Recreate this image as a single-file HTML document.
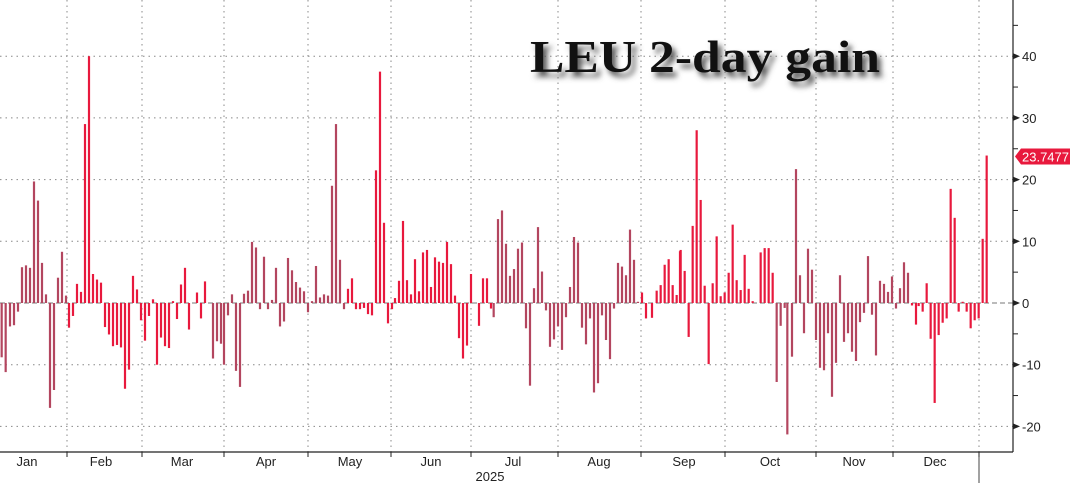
<!DOCTYPE html>
<html><head><meta charset="utf-8">
<style>
html,body{margin:0;padding:0;background:#fff;}
svg{display:block;font-family:"Liberation Sans",sans-serif;}
</style></head>
<body>
<svg id="c" width="1070" height="483" viewBox="0 0 1070 483" xmlns="http://www.w3.org/2000/svg">
<defs><filter id="bl" x="-10%" y="-30%" width="120%" height="160%"><feGaussianBlur stdDeviation="3"/></filter></defs>
<rect width="1070" height="483" fill="#fff"/>
<g id="grid"></g>
<g id="bars"></g>
<g id="axis"></g>
<text x="530" y="72" font-family="Liberation Serif, serif" font-weight="bold" font-size="46" fill="#555" filter="url(#bl)" textLength="350" lengthAdjust="spacingAndGlyphs" transform="translate(4,5)">LEU 2-day gain</text>
<text x="530" y="72" font-family="Liberation Serif, serif" font-weight="bold" font-size="46" fill="#111" textLength="350" lengthAdjust="spacingAndGlyphs">LEU 2-day gain</text>
</svg>
<script>
var NS="http://www.w3.org/2000/svg";
function el(p,t,a,txt){var e=document.createElementNS(NS,t);for(var k in a)e.setAttribute(k,a[k]);if(txt!==undefined)e.textContent=txt;p.appendChild(e);return e;}
var Z=303,U=6.17;
function Y(v){return Z-v*U;}
var grid=document.getElementById('grid'),bars=document.getElementById('bars'),ax=document.getElementById('axis');
[40,30,20,10,-10,-20].forEach(function(v){el(grid,'line',{x1:0,x2:1013,y1:Y(v),y2:Y(v),stroke:'#888','stroke-width':1,'stroke-dasharray':'1.5,4'});});
var mb=[67,142,224,308,391,471,558,641,725,816,893,979];
mb.forEach(function(x){el(grid,'line',{x1:x,x2:x,y1:0,y2:452,stroke:'#888','stroke-width':1,'stroke-dasharray':'1.5,4'});});
var segs=[
 [0,[[5,-8.8],[17,-11.2],[30,-3.8],[42,-3.6],[54,-1.4],[66,5.8],[78,6.1],[90,5.7],[102,19.7],[114,16.6],[126,6.5],[138,1.4],[150,-17],[162,-14.1],[174,4.1],[186,8.3],[198,1.2],
 [207,-4],[219,-2.1],[231,3.1],[243,1.8],[255,29],[267,40],[279,4.7],[291,3.8],[303,3.3],[315,-3.9],[327,-5.1],[339,-7],[351,-6.8],[363,-7.2],[375,-13.9],[387,-10.8],[399,4.4],[411,2.2],
 [423,-2.8],[435,-6.1],[447,-2.1],[459,0.6],[471,-10],[483,-5.6],[495,-7],[507,-7.3],[519,0.3],[531,-2.6],[543,3],[555,5.7],[567,-4.3],[591,1.7],[603,-2.5],[615,3.5],[639,-9],[651,-6.2],[663,-6.6],
 [672,-10],[684,-2],[696,1.4],[708,-11],[720,-13.6],[732,1.5],[744,2],[756,9.9],[768,9],[780,-1],[792,7.5],[804,-1],[816,0.5],[828,5.7],[840,-3.8],[852,-3],[864,7.3],[876,5.3],[888,3.4],[900,2.5],[912,1.9],[924,-1.5],
 [936,0.3],[948,6],[960,0.9],[972,1.4],[984,1.2],[996,19],[1008,29]]],
 [340,[[0,7],[12,-1],[24,2.3],[36,4],[48,-1],[60,-1],[72,-0.8],[84,-1.8],[96,-2],[108,21.5],[120,37.5],[132,13],[144,-3.3],[156,-1],
 [165,0.8],[177,3.6],[189,13.3],[201,3.7],[213,1.4],[225,7.1],[237,1.9],[249,8.2],[261,8.6],[273,2.6],[285,7.4],[297,6.7],[309,6.5],[321,9.9],[333,6.3],[345,1.2],[357,-5.7],[369,-9],[381,-6.9],[393,4.7],
 [417,-3.7],[429,4],[441,4],[453,-0.9],[461,-2.3],[474,13.6],[486,15],[498,9.6],[510,4.4],[522,5.5],[534,8.8],[546,9.8],[558,-4.1],[570,-13.4],[582,2.4],[594,12.3],[606,5.1],[618,-1.2],[630,-7.1],[642,-5.9],[654,-3.8],
 [666,-7.6],[678,-2.3],[690,2.6],[702,10.7],[714,9.8],[726,-4],[738,-6.7],[750,-2.5],[762,-14.5],[774,-13],[786,-2],[798,-6],[810,-9.1],[822,-0.9],[834,6.5],[846,5.9],[858,4.5],[870,11.9],[882,7],[894,0.2],
 [906,1.7],[918,-2.5],[936,-2.4],[950,2],[962,2.9],[974,6.2],[986,7.1],[998,2.9],[1010,1.3],[1022,8.6]]],
 [680,[[0,8.4],[14,5.2],[26,-5.5],[38,12.5],[50,28],[62,16.7],[74,2.8],[86,-9.9],[98,3.2],[110,10.8],[122,1.1],[134,1.7],
 [146,4.9],[158,12.7],[170,3.7],[182,2.1],[194,7.8],[206,2.3],[218,0.3],[242,8.2],[254,8.9],[266,8.9],[278,4.9],[290,-12.8],[302,-3.7],[314,-0.8],[322,-21.3],[336,-8.7],[348,21.7],[360,4.5],[372,-4.9],[384,8.8],[396,5.4],
 [408,-6],[420,-10.5],[432,-10.9],[444,-4.9],[456,-15.2],[468,-9.7],[480,4.5],[492,-6.3],[504,-4.9],[516,-7.9],[528,-9.4],[540,-3.1],[552,-1.6],[564,7.6],[576,-1.9],[588,-8.5],[600,3.6],[612,3.1],[624,1.8],[636,4.3],[648,-0.9],[660,2.4]]],
 [880,[[72,6.6],[84,4.9],[96,-0.4],[108,-3.5],[116,-0.5],[128,-1.4],[140,3.2],[152,-5.8],[164,-16.2],[176,-5.2],[188,-3.2],[200,-2.5],[212,18.5],[224,13.8],[236,-1.4],[248,0.2],[260,-1.4],[272,-4.1],[284,-2.8],[296,-2.5],[308,10.4],[320,23.9]]]
];
var DARK='#b3465f',RED='#e8193d';
function col(x){if(x<67)return DARK;if(x<209)return RED;if(x<345)return DARK;if(x<493)return RED;if(x<642)return DARK;if(x<773)return RED;if(x<912)return DARK;return RED;}
segs.forEach(function(s){s[1].forEach(function(d){var x=s[0]+d[0]/3,v=d[1];var y1=Math.min(Y(v),Z),h=Math.max(Math.abs(v*U),0.8);
el(bars,'rect',{x:(x-1.1).toFixed(2),y:y1.toFixed(2),width:2.2,height:h.toFixed(2),fill:col(x)});});});
el(grid,'line',{x1:0,x2:1013,y1:Z,y2:Z,stroke:'#777','stroke-width':1,'stroke-dasharray':'5,3'});
el(ax,'line',{x1:1013,x2:1013,y1:0,y2:452,stroke:'#222','stroke-width':1.2});
el(ax,'line',{x1:0,x2:1013,y1:452,y2:452,stroke:'#222','stroke-width':1.2});
mb.forEach(function(x){el(ax,'line',{x1:x,x2:x,y1:452,y2:457,stroke:'#222','stroke-width':1});});
el(ax,'line',{x1:979,x2:979,y1:457,y2:483,stroke:'#444','stroke-width':1});
for(var v=-25;v<=45;v+=5){var y=Y(v);if(y<0||y>452)continue;
 if(v%10===0){el(ax,'path',{d:'M1013 '+(y-3)+' L1020 '+y+' L1013 '+(y+3)+'Z',fill:'#222'});
  el(ax,'text',{x:1022,y:y+5,'font-size':13,fill:'#222'},(v<0?'-':'')+Math.abs(v));}
 else el(ax,'line',{x1:1013,x2:1018,y1:y,y2:y,stroke:'#222','stroke-width':1});}
var names=['Jan','Feb','Mar','Apr','May','Jun','Jul','Aug','Sep','Oct','Nov','Dec'],cx=[27,101,182,266,350,431,513,599,684,770,854,935];
names.forEach(function(n,i){el(ax,'text',{x:cx[i],y:466,'font-size':13,fill:'#222','text-anchor':'middle'},n);});
el(ax,'text',{x:490,y:481,'font-size':13,fill:'#222','text-anchor':'middle'},'2025');
var by=Y(23.7477);
el(ax,'path',{d:'M1015 '+by+' L1021 '+(by-8)+' L1070 '+(by-8)+' L1070 '+(by+8)+' L1021 '+(by+8)+'Z',fill:'#e8193d'});
el(ax,'text',{x:1022,y:by+5,'font-size':13,fill:'#fff'},'23.7477');
</script>
</body></html>
